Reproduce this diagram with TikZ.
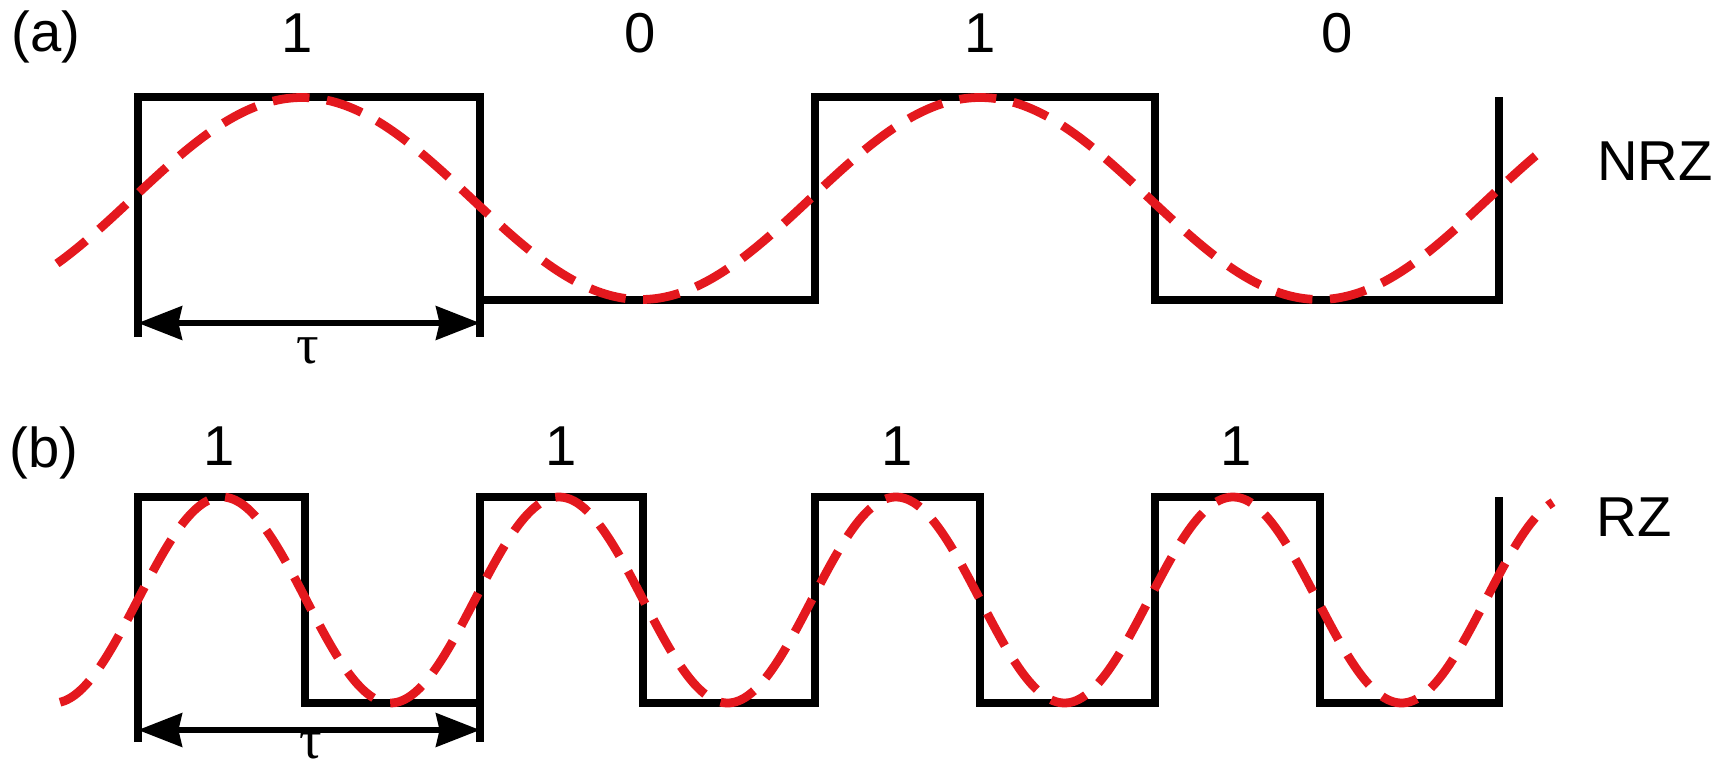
\documentclass[tikz,border=0pt]{standalone}
\usepackage{fontspec}
\setmainfont{Liberation Sans}
\newfontfamily\taufont{Liberation Serif}
\usepackage{tikz}
\usetikzlibrary{arrows.meta}
\definecolor{sinered}{RGB}{228,24,30}

\begin{document}
\begin{tikzpicture}[x=0.02cm, y=-0.02cm, >={Stealth[length=25pt,width=19pt,inset=2pt]}, every node/.style={font=\fontsize{32}{38}\selectfont, inner sep=0pt}]
\tikzstyle{pulse}=[line width=4.8pt, line join=miter]
\tikzstyle{sine}=[line width=5pt, sinered, dash pattern=on 21pt off 10pt]
\tikzstyle{span}=[<->, line width=3.4pt]
\tikzstyle{taulbl}=[font=\taufont\fontsize{32}{38}\selectfont]
\useasboundingbox (0,0) rectangle (1731,768);
\node[anchor=west] (tagA) at (11,37) {(a)};
\node (bitA1) at (297,33) {1};
\node (bitA2) at (640,33) {0};
\node (bitA3) at (980,33) {1};
\node (bitA4) at (1337,33) {0};
\node (nrz) at (1655,161) {NRZ};
\node[anchor=west] (tagB) at (9,453) {(b)};
\node (bitB1) at (219,446) {1};
\node (bitB2) at (561,446) {1};
\node (bitB3) at (897,446) {1};
\node (bitB4) at (1236,446) {1};
\node (rz) at (1634,517) {RZ};
\coordinate (tauAl) at (138,323);
\coordinate (tauAr) at (480,323);
\coordinate (tauBl) at (138,730);
\coordinate (tauBr) at (480,730);
\node[taulbl] (tauA) at (308,351) {τ};
\node[taulbl] (tauB) at (311,746) {τ};
\draw[pulse] (138,337) -- (138,97) -- (480,97) -- (480,337);
\draw[pulse] (480,300) -- (815,300) -- (815,97) -- (1155,97) -- (1155,300) -- (1499,300) -- (1499,97);
\draw[pulse] (138,742) -- (138,497) -- (305,497) -- (305,703) -- (480,703);
\draw[pulse] (480,742) -- (480,497) -- (643,497) -- (643,703) -- (815,703) -- (815,497) -- (980,497) -- (980,703) -- (1155,703) -- (1155,497) -- (1320,497) -- (1320,703) -- (1499,703) -- (1499,497);
\draw[span] (tauAl) -- (tauAr);
\draw[span] (tauBl) -- (tauBr);
\draw[sine] plot[domain=57:1549, samples=300, smooth] (\x, {198.5-101*cos((\x-302)/678*360)});
\draw[sine] plot[domain=60:1553, samples=300, smooth] (\x, {600-103*cos((\x-222)/337*360)});
\end{tikzpicture}
\end{document}
